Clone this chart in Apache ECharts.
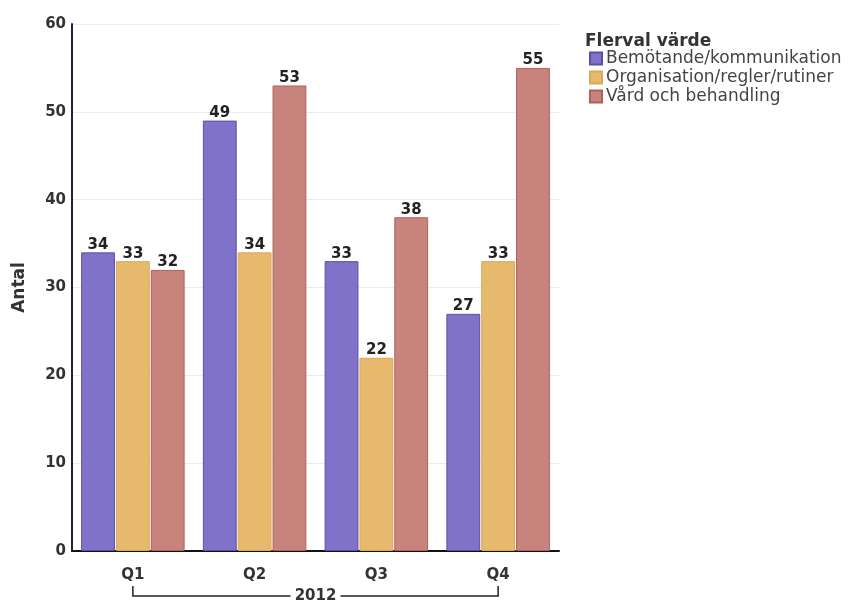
<!DOCTYPE html>
<html>
<head>
<meta charset="utf-8">
<script src="https://cdn.jsdelivr.net/npm/echarts@6/dist/echarts.min.js"></script>
<style>
  html, body { margin: 0; padding: 0; background: #fff; }
  #chart { width: 858px; height: 601px; }
</style>
</head>
<body>
<div id="chart"></div>
<script>
// Quarterly counts per complaint category, 2012
const quarters = ['Q1', 'Q2', 'Q3', 'Q4'];
const yearLabel = '2012';
const seriesNames = ['Bemötande/kommunikation', 'Organisation/regler/rutiner', 'Vård och behandling'];
const bemotande = [34, 49, 33, 27];
const organisation = [33, 34, 22, 33];
const vard = [32, 53, 38, 55];
const yTicks = { min: 0, max: 60, interval: 10 };

const colors = ['#7f72c8', '#e6b96c', '#c9837d'];
const borders = ['#5a4fa6', '#d9a85a', '#b0605c'];
const font = 'DejaVu Sans, Verdana, sans-serif';

const chart = echarts.init(document.getElementById('chart'), null, { renderer: 'canvas' });

function makeSeries(name, data, i) {
  return {
    name: name,
    type: 'bar',
    data: data,
    barGap: '3%',
    barCategoryGap: '15%',
    itemStyle: { color: colors[i], borderColor: borders[i], borderWidth: 1 },
    label: {
      show: true,
      position: 'top',
      distance: 0,
      color: '#222',
      fontFamily: font,
      fontWeight: 'bold',
      fontSize: 15
    }
  };
}

const option = {
  animation: false,
  backgroundColor: '#fff',
  title: {
    text: 'Flerval värde',
    left: 580,
    top: 28,
    textStyle: { fontFamily: font, fontWeight: 'bold', fontSize: 17, color: '#333' }
  },
  legend: {
    orient: 'vertical',
    left: 584,
    top: 45,
    itemWidth: 12,
    itemHeight: 12,
    itemGap: 2,
    icon: 'rect',
    data: seriesNames,
    textStyle: { fontFamily: font, fontSize: 17, color: '#444', padding: [0, 0, 0, -1] }
  },
  grid: { left: 72, right: 299, top: 24, bottom: 50, containLabel: false },
  xAxis: {
    type: 'category',
    data: quarters,
    axisLine: { show: true, lineStyle: { color: '#111', width: 2 } },
    axisTick: { show: false },
    axisLabel: { fontFamily: font, fontWeight: 'bold', fontSize: 15, color: '#333', margin: 17 }
  },
  yAxis: {
    type: 'value',
    min: yTicks.min,
    max: yTicks.max,
    interval: yTicks.interval,
    name: 'Antal',
    nameLocation: 'middle',
    nameGap: 44,
    nameTextStyle: { fontFamily: font, fontWeight: 'bold', fontSize: 17, color: '#333' },
    axisLine: { show: true, lineStyle: { color: '#1e2140', width: 2 } },
    axisTick: { show: false },
    splitLine: { show: true, lineStyle: { color: '#ececec', width: 1 } },
    axisLabel: { fontFamily: font, fontWeight: 'bold', fontSize: 15, color: '#333', margin: 6 }
  },
  series: [
    makeSeries(seriesNames[0], bemotande, 0),
    makeSeries(seriesNames[1], organisation, 1),
    makeSeries(seriesNames[2], vard, 2)
  ]
};

chart.setOption(option);

// Year bracket under the quarter labels, spanning first to last category
const x0 = chart.convertToPixel({ xAxisIndex: 0 }, quarters[0]);
const x1 = chart.convertToPixel({ xAxisIndex: 0 }, quarters[quarters.length - 1]);
const yLine = 596;
const yTop = 586;
const xm = (x0 + x1) / 2;
chart.setOption({
  graphic: [
    {
      type: 'polyline',
      shape: { points: [[x0, yTop], [x0, yLine], [xm - 25, yLine]] },
      style: { stroke: '#222', lineWidth: 1.5, fill: null }
    },
    {
      type: 'polyline',
      shape: { points: [[xm + 25, yLine], [x1, yLine], [x1, yTop]] },
      style: { stroke: '#222', lineWidth: 1.5, fill: null }
    },
    {
      type: 'text',
      x: xm,
      y: yLine,
      style: {
        text: yearLabel,
        fontFamily: font,
        fontWeight: 'bold',
        fontSize: 15,
        fill: '#333',
        align: 'center',
        verticalAlign: 'middle'
      }
    }
  ]
});
</script>
</body>
</html>
